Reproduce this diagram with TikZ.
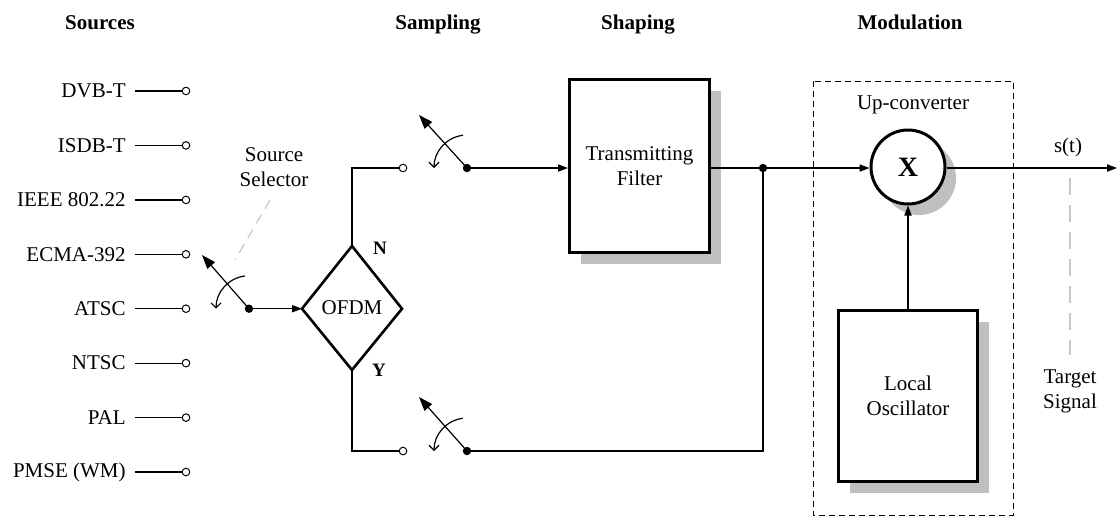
\documentclass[tikz,border=0pt]{standalone}
\usepackage{fontspec}
\setmainfont{Liberation Serif}
\usetikzlibrary{arrows.meta,shadows}
\begin{document}
\begin{tikzpicture}[x=0.5pt,y=-0.5pt, font=\fontsize{10.5}{12.5}\selectfont,
  wire/.style={line width=0.6pt},
  arr/.style={wire,-{Triangle[length=5pt,width=3.6pt]}},
  lever/.style={wire,-{Triangle[length=7pt,width=5pt]}},
  swarc/.style={wire,-{Straight Barb[length=2.5pt,width=5pt]}},
  term/.style={circle,draw,fill=white,inner sep=0pt,minimum size=3.8pt,line width=0.5pt},
  jdot/.style={circle,fill,inner sep=0pt,minimum size=4.2pt},
  shade/.style={drop shadow={shadow xshift=5.5pt,shadow yshift=-5.5pt,fill=black!25,opacity=1}},
  block/.style={draw,fill=white,line width=1.5pt,align=center,inner sep=0pt,shade},
  title/.style={font=\fontsize{10.5}{12.5}\selectfont\bfseries,anchor=base},
  guide/.style={draw=black!22,line width=0.6pt,dash pattern=on 8.5pt off 5pt}]
\useasboundingbox (0,0) rectangle (1117,516);

% titles
\node[title] (tSrc) at (100,29) {Sources};
\node[title] (tSam) at (438,29) {Sampling};
\node[title] (tSha) at (638,29) {Shaping};
\node[title] (tMod) at (910,29) {Modulation};

% sources
\foreach \name/\yy [count=\i] in {DVB-T/91,ISDB-T/145.4,IEEE 802.22/199.9,ECMA-392/254.3,ATSC/308.7,NTSC/363.1,PAL/417.6,PMSE (WM)/472}{
  \node[anchor=east,inner sep=0pt] (s\i) at (126,\yy) {\name};
  \node[term] (c\i) at (186,\yy) {};
  \draw[wire] (135,\yy) coordinate (l\i) -- (c\i.west);
}

% source selector
\node[jdot] (p0) at (249,308.7) {};
\coordinate (a0) at (202,255);
\draw[lever] (p0.center) -- (a0);
\draw[swarc] (p0.center) ++(263:33) arc[start angle=263,end angle=180,radius=33];
\node[align=center,inner sep=0pt] (selT) at (274,167) {Source\\Selector};
\coordinate (g0a) at (270,200);
\coordinate (g0b) at (235,260);
\draw[draw=black!22,line width=0.6pt,dash pattern=on 5pt off 3.5pt] (g0a) -- (g0b);

% OFDM diamond
\node (ofdm) at (352,308) {OFDM};
\coordinate (dl) at (302,308.7);
\coordinate (dt) at (352,246);
\coordinate (dr) at (402,308.7);
\coordinate (db) at (352,370);
\draw[line width=1.3pt,line join=miter] (dl) -- (dt) -- (dr) -- (db) -- cycle;
\draw[arr] (p0.center) -- (dl);
\node[font=\fontsize{9.5}{11}\selectfont\bfseries] (nN) at (380,248) {N};
\node[font=\fontsize{9.5}{11}\selectfont\bfseries] (nY) at (379,370) {Y};

% upper sampling switch
\node[term] (cu) at (403,168) {};
\node[jdot] (pu) at (467,168) {};
\draw[wire] (dt) |- (cu.west);
\draw[lever] (pu.center) -- (419,115) coordinate (au);
\draw[swarc] (pu.center) ++(263:33) arc[start angle=263,end angle=180,radius=33];

% lower sampling switch
\node[term] (cl) at (403,451) {};
\node[jdot] (pl) at (467,451) {};
\draw[wire] (db) |- (cl.west);
\draw[lever] (pl.center) -- (419,397) coordinate (al);
\draw[swarc] (pl.center) ++(263:33) arc[start angle=263,end angle=180,radius=33];

% modulation dashed frame
\draw[line width=0.5pt,dash pattern=on 3pt off 2pt] (813,81) rectangle (1013,515);
\node (upc) at (913,105) {Up-converter};

% blocks
\node[block,minimum width=70pt,minimum height=86.5pt] (filt) at (639.5,166) {Transmitting\\Filter};
\node[block,circle,minimum size=37pt,font=\fontsize{14}{16}\selectfont\bfseries,drop shadow={shadow xshift=4pt,shadow yshift=-4pt,fill=black!25,opacity=1}] (mix) at (908,167) {X};
\node[block,minimum width=69.5pt,minimum height=85.5pt] (lo) at (908,396) {Local\\Oscillator};

% connections
\draw[arr] (pu.center) -- (filt.west |- pu);
\node[jdot] (jn) at (763,168) {};
\draw[wire] (filt.east |- jn) -- (jn.center);
\draw[arr] (jn.center) -- (mix.west |- jn);
\draw[wire] (pl.center) -| (jn.center);
\draw[arr] (lo.north) -- (mix.south);
\coordinate (out) at (1117,168);
\draw[arr] (mix.east |- out) -- (out);
\node (st) at (1068,147) {s(t)};
\coordinate (g1a) at (1070,178);
\coordinate (g1b) at (1070,355);
\draw[guide] (g1a) -- (g1b);
\node[align=center,inner sep=0pt] (tgt) at (1070,391) {Target\\Signal};
\end{tikzpicture}
\end{document}
